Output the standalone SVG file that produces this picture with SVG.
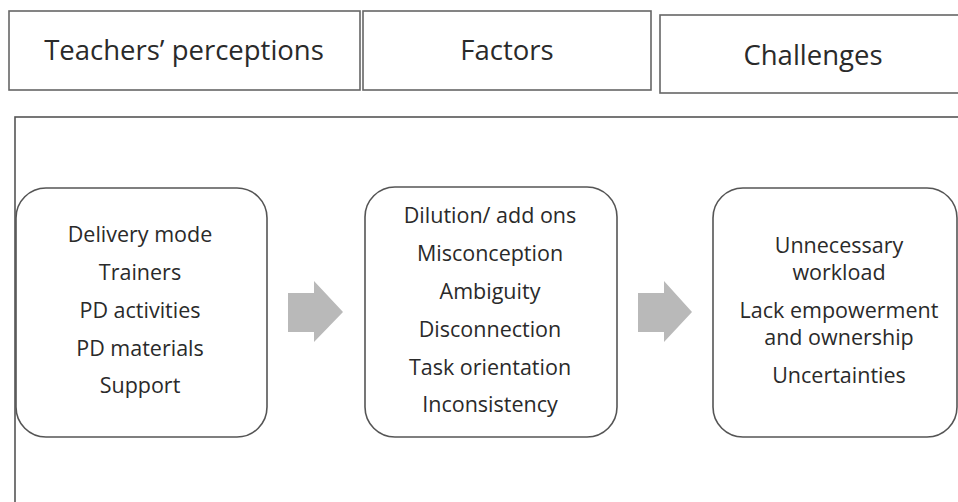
<svg xmlns="http://www.w3.org/2000/svg" width="958" height="502" viewBox="0 0 958 502">
  <style>
    .hdr { fill: #ffffff; stroke: #666666; stroke-width: 1.6; }
    .frame { fill: none; stroke: #555555; stroke-width: 1.6; }
    .node { fill: #ffffff; stroke: #555555; stroke-width: 1.6; }
    .arrow { fill: #b9b9b9; stroke: none; }
    text { font-family: "Open Sans", "Noto Sans", sans-serif; fill: #2a2a2a; text-anchor: middle; }
    .h { font-size: 27.5px; }
    .t { font-size: 21.5px; }
  </style>

  <!-- column headers -->
  <g id="header-perceptions">
    <rect class="hdr" x="9" y="11" width="351" height="79"/>
    <text class="h" x="184" y="60">Teachers’ perceptions</text>
  </g>
  <g id="header-factors">
    <rect class="hdr" x="363" y="11" width="288" height="79"/>
    <text class="h" x="507" y="60">Factors</text>
  </g>
  <g id="header-challenges">
    <rect class="hdr" x="660" y="15" width="310" height="78"/>
    <text class="h" x="813" y="65">Challenges</text>
  </g>

  <!-- outer frame -->
  <rect class="frame" x="15" y="117" width="960" height="400"/>

  <!-- content boxes -->
  <g id="node-perceptions">
    <rect class="node" x="16" y="188" width="251" height="249" rx="30"/>
    <text class="t" x="140" y="242">Delivery mode</text>
    <text class="t" x="140" y="280">Trainers</text>
    <text class="t" x="140" y="318">PD activities</text>
    <text class="t" x="140" y="356">PD materials</text>
    <text class="t" x="140" y="393">Support</text>
  </g>
  <g id="node-factors">
    <rect class="node" x="365" y="187" width="252" height="250" rx="30"/>
    <text class="t" x="490" y="223">Dilution/ add ons</text>
    <text class="t" x="490" y="261">Misconception</text>
    <text class="t" x="490" y="299">Ambiguity</text>
    <text class="t" x="490" y="337">Disconnection</text>
    <text class="t" x="490" y="375">Task orientation</text>
    <text class="t" x="490" y="412">Inconsistency</text>
  </g>
  <g id="node-challenges">
    <rect class="node" x="713" y="188" width="244" height="249" rx="30"/>
    <text class="t" x="839" y="253">Unnecessary</text>
    <text class="t" x="839" y="280">workload</text>
    <text class="t" x="839" y="318">Lack empowerment</text>
    <text class="t" x="839" y="345">and ownership</text>
    <text class="t" x="839" y="383">Uncertainties</text>
  </g>

  <!-- block arrows between boxes -->
  <g id="connectors">
    <polygon class="arrow" points="288,293 314,293 314,281 343,312 314,342 314,332 288,332"/>
    <polygon class="arrow" points="638,293 664,293 664,281 692,312 664,342 664,332 638,332"/>
  </g>
</svg>
